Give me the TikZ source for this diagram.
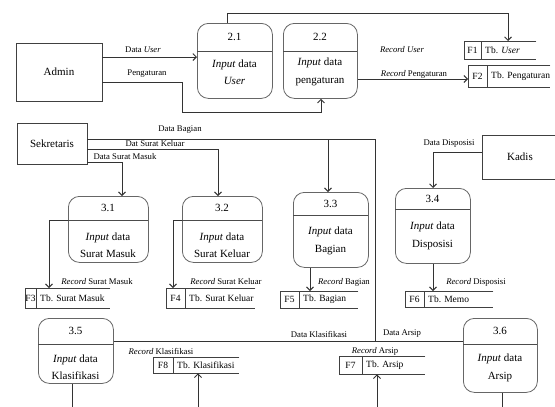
\documentclass[tikz,border=0pt]{standalone}
\usepackage{fontspec}
\setmainfont{Liberation Serif}
\usetikzlibrary{arrows.meta}
\tikzset{
 every node/.style={inner sep=0pt},
 proc/.style={draw=black!60, line width=0.8pt, rounded corners=11pt},
 divl/.style={draw=black!70, line width=0.8pt},
 ent/.style={draw=black!75, line width=0.8pt, font=\fontsize{11}{13}\selectfont},
 ln/.style={draw=black!80, line width=0.9pt},
 arr/.style={ln, -{Straight Barb[length=3.5pt,width=7pt,line width=0.9pt]}},
 lbl/.style={font=\fontsize{8.7}{10}\selectfont},
 ptxt/.style={font=\fontsize{11}{17.5}\selectfont, align=center},
 stl/.style={draw=black!75, line width=0.8pt},
 stxt/.style={font=\fontsize{9.5}{10}\selectfont},
}
% name, x1, y1, x2, y2, ydiv, number, body, body-y
\newcommand\procbox[9]{%
 \node[proc, minimum width={#4pt-#2pt}, minimum height={#5pt-#3pt}, anchor=north west] (#1) at (#2,#3) {};
 \draw[divl] (#2,#6) -- (#4,#6);
 \node[ptxt] (#1n) at ({(#2+#4)/2},{(#3+#6)/2}) {#7};
 \node[ptxt] (#1b) at ({(#2+#4)/2},#9) {#8};
}
% name, x1, y1, x2, y2, xdiv, id, text
\newcommand\dstore[8]{%
 \node[minimum width={#4pt-#2pt}, minimum height={#5pt-#3pt}, anchor=north west] (#1) at (#2,#3) {};
 \draw[stl] (#1.north east) -- (#1.north west) -- (#1.south west) -- (#1.south east);
 \draw[stl] (#6,#3) -- (#6,#5);
 \node[stxt] (#1id) at ({(#2+#6)/2},{(#3+#5)/2}) {#7};
 \node[stxt, anchor=west] (#1t) at ({#6+4},{(#3+#5)/2}) {#8};
}
\begin{document}
\begin{tikzpicture}[x=1pt,y=-1pt]
\useasboundingbox (0,0) rectangle (555,407);
\fill[white] (0,0) rectangle (555,407);

% external entities
\node[ent, minimum width=86pt, minimum height=58pt] (admin) at (59,72) {Admin};
\node[ent, minimum width=70pt, minimum height=41pt] (sek) at (52,143.5) {Sekretaris};
\node[ent, minimum width=76pt, minimum height=44pt] (kadis) at (520,157) {Kadis};

% processes
\procbox{p21}{197}{23}{272}{98}{51}{2.1}{\textit{Input} data\\\textit{User}}{72}
\procbox{p22}{283}{23}{357}{98}{51}{2.2}{\textit{Input} data\\pengaturan}{72}
\procbox{p31}{68}{196}{148}{262}{220}{3.1}{\textit{Input} data\\Surat Masuk}{245}
\procbox{p32}{182}{196}{262}{262}{220}{3.2}{\textit{Input} data\\Surat Keluar}{245}
\procbox{p33}{293}{192}{368}{267}{215}{3.3}{\textit{Input} data\\Bagian}{241}
\procbox{p34}{395}{188}{470}{263}{209}{3.4}{\textit{Input} data\\Disposisi}{236}
\procbox{p35}{38}{318}{113}{383}{344}{3.5}{\textit{Input} data\\Klasifikasi}{367}
\procbox{p36}{463}{318}{537}{392}{344}{3.6}{\textit{Input} data\\Arsip}{368}

% data stores
\dstore{f1}{464}{41}{536}{59}{481}{F1}{Tb. \textit{User}}
\dstore{f2}{468}{65}{550}{87}{487}{F2}{Tb. Pengaturan}
\dstore{f3}{25}{288}{110}{308}{36}{F3}{Tb. Surat Masuk}
\dstore{f4}{166}{288}{255}{308}{185}{F4}{Tb. Surat Keluar}
\dstore{f5}{280}{291}{358}{308}{299}{F5}{Tb. Bagian}
\dstore{f6}{405}{291}{493}{307}{424}{F6}{Tb. Memo}
\dstore{f7}{339}{356}{425}{374}{362}{F7}{Tb. Arsip}
\dstore{f8}{153}{357}{239}{373}{173}{F8}{Tb. Klasifikasi}

% helper coordinates
\coordinate (yDU) at (0,57);
\coordinate (k1) at (182,82);
\coordinate (k2) at (321,112);
\coordinate (k3) at (227,13);
\coordinate (k4) at (508,13);
\coordinate (yRP) at (0,79);
\coordinate (k5) at (375,139);
\coordinate (k6) at (328,139);
\coordinate (hl) at (0,341);
\coordinate (k7) at (218,149);
\coordinate (k8) at (122,162);
\coordinate (k9) at (49,220);
\coordinate (k10) at (173,220);
\coordinate (k11) at (310,0);
\coordinate (k12) at (433,152);
\coordinate (e35) at (72,412);
\coordinate (e36) at (502,412);
\coordinate (e8) at (198,412);
\coordinate (e7) at (377,412);

% connectors
\draw[arr] (admin.east |- yDU) -- (p21.west |- yDU);
\draw[arr] (admin.east |- k1) -- (k1) |- (k2) -- (p22.south -| k2);
\draw[arr] (p21.north -| k3) -- (k3) -- (k4) -- (f1.north -| k4);
\draw[arr] (p22.east |- yRP) -- (f2.west |- yRP);

\draw[ln] (sek.east |- k5) -- (k5) -- (k5 |- hl);
\draw[arr] (k6) -- (p33.north -| k6);
\draw[ln] (p35.east |- hl) -- (p36.west |- hl);
\draw[arr] (sek.east |- k7) -- (k7) -- (p32.north -| k7);
\draw[arr] (sek.east |- k8) -- (k8) -- (p31.north -| k8);
\draw[arr] (p31.west |- k9) -- (k9) -- (f3.north -| k9);
\draw[arr] (p32.west |- k10) -- (k10) -- (f4.north -| k10);
\draw[arr] (p33.south -| k11) -- (f5.north -| k11);
\draw[arr] (kadis.west |- k12) -- (k12) -- (p34.north -| k12);
\draw[arr] (p34.south -| k12) -- (f6.north -| k12);
\draw[ln] (p35.south -| e35) -- (e35);
\draw[ln] (p36.south -| e36) -- (e36);
\draw[arr] (e8) -- (f8.south -| e8);
\draw[arr] (e7) -- (f7.south -| e7);

% labels
\node[lbl] (lDU) at (143,50) {Data \textit{User}};
\node[lbl] (lPg) at (147,74) {Pengaturan};
\node[lbl] (lRU) at (402,50) {\textit{Record User}};
\node[lbl] (lRP) at (414,74) {\textit{Record} Pengaturan};
\node[lbl] (lDB) at (180,130) {Data Bagian};
\node[lbl] (lSK) at (155,144) {Dat Surat Keluar};
\node[lbl] (lSM) at (125,157) {Data Surat Masuk};
\node[lbl] (lRSM) at (97,282) {\textit{Record} Surat Masuk};
\node[lbl] (lRSK) at (226,282) {\textit{Record} Surat Keluar};
\node[lbl] (lRB) at (344,282) {\textit{Record} Bagian};
\node[lbl] (lDD) at (449,144) {Data Disposisi};
\node[lbl] (lRD) at (476,282) {\textit{Record} Disposisi};
\node[lbl] (lDK) at (319,334) {Data Klasifikasi};
\node[lbl] (lDA) at (402,334) {Data Arsip};
\node[lbl] (lRK) at (161,351) {\textit{Record} Klasifikasi};
\node[lbl] (lRA) at (375,351) {\textit{Record} Arsip};
\end{tikzpicture}
\end{document}
